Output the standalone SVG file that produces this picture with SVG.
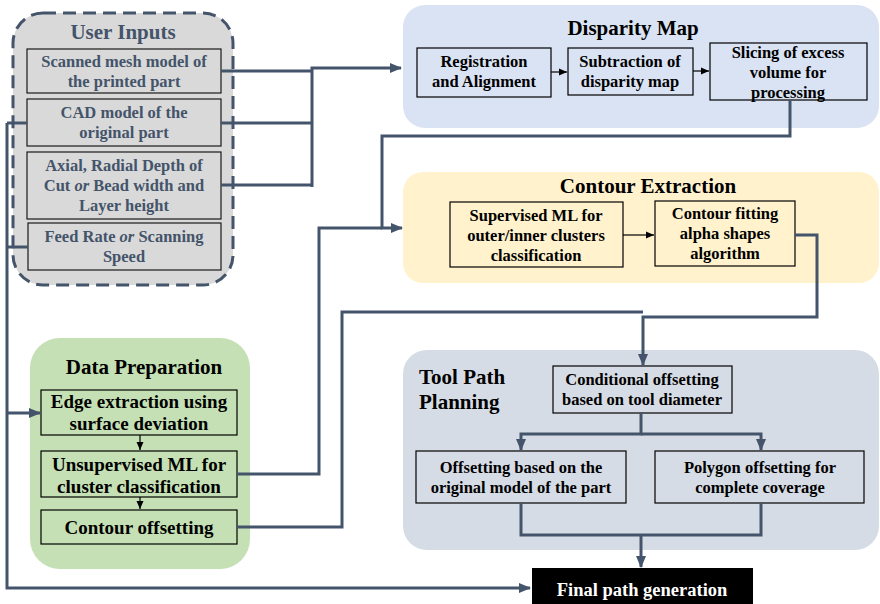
<svg xmlns="http://www.w3.org/2000/svg" width="880" height="604" viewBox="0 0 880 604">
<style>
text{font-family:"Liberation Serif","Times New Roman",serif;font-weight:bold;text-anchor:middle}
.t{font-size:16.5px;fill:#000}
.d{font-size:19px;fill:#000}
.u{font-size:16.5px;fill:#44546A}
.h{font-size:21px;fill:#000}
.box{fill:none;stroke:#000;stroke-width:1.2}
.ubox{fill:#D9D9D9;stroke:#1a1a1a;stroke-width:1.2}
.c{fill:none;stroke:#44546A;stroke-width:3}
.s{fill:none;stroke:#000;stroke-width:1.2}
</style>
<defs>
<marker id="a" markerUnits="userSpaceOnUse" markerWidth="12" markerHeight="10" refX="11" refY="5" orient="auto"><path d="M0,0 L12,5 L0,10 Z" fill="#44546A"/></marker>
<marker id="b" markerUnits="userSpaceOnUse" markerWidth="8" markerHeight="8" refX="8" refY="4" orient="auto"><path d="M0,0.5 L8,4 L0,7.5 Z" fill="#000"/></marker>
</defs>

<g id="user-inputs">
<rect x="13" y="13" width="220" height="272" rx="30" fill="#D9D9D9" stroke="#44546A" stroke-width="3" stroke-dasharray="13,7"/>
<text class="u" x="123" y="39" style="font-size:21px">User Inputs</text>
<rect class="ubox" x="27" y="49" width="194" height="44"/>
<text class="u" x="124" y="67">Scanned mesh model of</text>
<text class="u" x="124" y="87">the printed part</text>
<rect class="ubox" x="27" y="99" width="194" height="47"/>
<text class="u" x="124" y="118">CAD model of the</text>
<text class="u" x="124" y="138">original part</text>
<rect class="ubox" x="27" y="152" width="194" height="67"/>
<text class="u" x="124" y="171">Axial, Radial Depth of</text>
<text class="u" x="124" y="191">Cut <tspan font-style="italic">or</tspan> Bead width and</text>
<text class="u" x="124" y="211">Layer height</text>
<rect class="ubox" x="28" y="223" width="193" height="47"/>
<text class="u" x="124" y="242">Feed Rate <tspan font-style="italic">or</tspan> Scanning</text>
<text class="u" x="124" y="262">Speed</text>
</g>

<g id="disparity-map">
<rect x="403" y="5" width="476" height="123" rx="22" fill="#DAE3F3"/>
<text class="h" x="633" y="35">Disparity Map</text>
<rect class="box" x="417" y="48" width="134" height="49"/>
<text class="t" x="484" y="67">Registration</text>
<text class="t" x="484" y="87">and Alignment</text>
<rect class="box" x="568" y="48" width="125" height="47"/>
<text class="t" x="630" y="67">Subtraction of</text>
<text class="t" x="630" y="87">disparity map</text>
<rect class="box" x="710" y="43" width="157" height="57"/>
<text class="t" x="788" y="58">Slicing of excess</text>
<text class="t" x="788" y="78">volume for</text>
<text class="t" x="788" y="98">processing</text>
<path class="s" d="M551,72 H567" marker-end="url(#b)"/>
<path class="s" d="M693,71 H709" marker-end="url(#b)"/>
</g>

<g id="contour-extraction">
<rect x="403" y="172" width="476" height="111" rx="20" fill="#FFF2CC"/>
<text class="h" x="648" y="193">Contour Extraction</text>
<rect class="box" x="450" y="202" width="173" height="65"/>
<text class="t" x="536" y="221">Supervised ML for</text>
<text class="t" x="536" y="241">outer/inner clusters</text>
<text class="t" x="536" y="261">classification</text>
<rect class="box" x="655" y="201" width="140" height="65"/>
<text class="t" x="725" y="219">Contour fitting</text>
<text class="t" x="725" y="239">alpha shapes</text>
<text class="t" x="725" y="259">algorithm</text>
<path class="s" d="M623,235 H654" marker-end="url(#b)"/>
</g>

<g id="data-preparation">
<rect x="30" y="338" width="220" height="231" rx="30" fill="#C5E0B4"/>
<text class="h" x="144" y="374">Data Preparation</text>
<rect class="box" x="41" y="390" width="196" height="45"/>
<text class="d" x="139" y="408">Edge extraction using</text>
<text class="d" x="139" y="430">surface deviation</text>
<rect class="box" x="41" y="451" width="196" height="46"/>
<text class="d" x="139" y="471">Unsupervised ML for</text>
<text class="d" x="139" y="493">cluster classification</text>
<rect class="box" x="41" y="510" width="196" height="34"/>
<text class="d" x="139" y="534">Contour offsetting</text>
<path class="s" d="M140,435 V450" marker-end="url(#b)"/>
<path class="s" d="M140,497 V509" marker-end="url(#b)"/>
</g>

<g id="tool-path-planning">
<rect x="403" y="350" width="476" height="200" rx="24" fill="#D6DCE5"/>
<text class="h" x="419" y="384" style="text-anchor:start">Tool Path</text>
<text class="h" x="419" y="409" style="text-anchor:start">Planning</text>
<rect class="box" x="553" y="366" width="179" height="47"/>
<text class="t" x="642" y="385">Conditional offsetting</text>
<text class="t" x="642" y="405">based on tool diameter</text>
<rect class="box" x="416" y="451" width="210" height="52"/>
<text class="t" x="521" y="473">Offsetting based on the</text>
<text class="t" x="521" y="493">original model of the part</text>
<rect class="box" x="655" y="451" width="209" height="52"/>
<text class="t" x="760" y="473">Polygon offsetting for</text>
<text class="t" x="760" y="493">complete coverage</text>
</g>

<g id="final-path-generation">
<rect x="532" y="568" width="221" height="36" fill="#000"/>
<text x="642" y="596" style="font-size:18.5px;fill:#fff">Final path generation</text>
</g>

<g id="connectors">
<path class="c" d="M221,71 H312"/>
<path class="c" d="M221,123 H312"/>
<path class="c" d="M221,185 H312"/>
<path class="c" d="M312,187 V68 H401" marker-end="url(#a)"/>
<path class="c" d="M27,123 H7"/>
<path class="c" d="M28,247 H7"/>
<path class="c" d="M7,123 V588 H530" marker-end="url(#a)"/>
<path class="c" d="M7,413 H40" marker-end="url(#a)"/>
<path class="c" d="M790,100 V136 H382 V228 H402" marker-end="url(#a)"/>
<path class="c" d="M237,474 H319 V228 H382"/>
<path class="c" d="M237,527 H342 V312 H643"/>
<path class="c" d="M795,235 H817 V317 H643 V365" marker-end="url(#a)"/>
<path class="c" d="M641,413 V434 H521 V450" marker-end="url(#a)"/>
<path class="c" d="M641,434 H761 V450" marker-end="url(#a)"/>
<path class="c" d="M521,503 V535 H761 V503"/>
<path class="c" d="M641,535 V567" marker-end="url(#a)"/>
</g>
</svg>
